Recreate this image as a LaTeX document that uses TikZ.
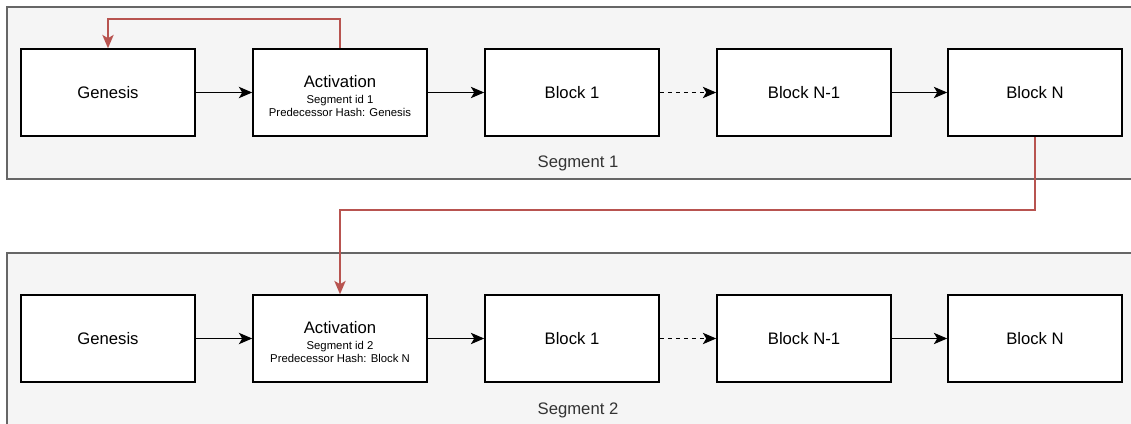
\documentclass[tikz,border=0pt]{standalone}
\usepackage{fontspec}
\setmainfont{Liberation Sans}
\usetikzlibrary{arrows.meta}

\definecolor{segfill}{HTML}{F5F5F5}
\definecolor{segline}{HTML}{666666}
\definecolor{linkred}{HTML}{B85450}
\definecolor{labelgray}{HTML}{333333}

\tikzset{
  segment/.style={draw=segline, fill=segfill, line width=1pt},
  blockbox/.style={draw=black, fill=white, line width=1.2pt, minimum width=130.5pt, minimum height=65.25pt, inner sep=1pt, align=center, font=\fontsize{12.5}{14}\selectfont},
  chain/.style={-{Stealth[length=10pt,width=8.5pt,inset=2.5pt]}, line width=1.1pt},
  link/.style={-{Stealth[length=10pt,width=8.5pt,inset=2.5pt]}, draw=linkred, line width=1.1pt}
}

\newcommand{\actlabel}[2]{\rule{0pt}{14pt}{\fontsize{12.5}{13}\selectfont Activation}\\[-2pt]{\fontsize{8.5}{9}\selectfont Segment id #1}\\[-4.25pt]{\fontsize{8.5}{9}\selectfont Predecessor Hash: #2}}

\begin{document}
\begin{tikzpicture}[x=0.75pt, y=-0.75pt]
	\useasboundingbox (0,0) rectangle (1131,424);
	\clip (0,0) rectangle (1131,424);
	% segment containers
	\draw[segment] (7,7) rectangle (1145,179);
	\draw[segment] (7,253) rectangle (1145,440);
	\node[font=\fontsize{12.5}{14}\selectfont, text=labelgray] (seg1) at (578,163) {Segment 1};
	\node[font=\fontsize{12.5}{14}\selectfont, text=labelgray] (seg2) at (578,410) {Segment 2};
	% segment 1
	\node[blockbox] (gen1) at (108,92.5) {Genesis};
	\node[blockbox] (act1) at (340,92.5) {\actlabel{1}{Genesis}};
	\node[blockbox] (one1) at (572,92.5) {Block 1};
	\node[blockbox] (prev1) at (804,92.5) {Block N-1};
	\node[blockbox] (last1) at (1035,92.5) {Block N};
	% segment 2
	\node[blockbox] (gen2) at (108,338.5) {Genesis};
	\node[blockbox] (act2) at (340,338.5) {\actlabel{2}{Block N}};
	\node[blockbox] (one2) at (572,338.5) {Block 1};
	\node[blockbox] (prev2) at (804,338.5) {Block N-1};
	\node[blockbox] (last2) at (1035,338.5) {Block N};
	% chains
	\foreach \s in {1,2} {
	  \draw[chain] (gen\s) -- (act\s);
	  \draw[chain] (act\s) -- (one\s);
	  \draw[chain, dashed] (one\s) -- (prev\s);
	  \draw[chain] (prev\s) -- (last\s);
	}
	% links between segments
	\draw[link] (act1.north) -- ++(0,-29) -| (gen1.north);
	\draw[link] (last1.south) -- ++(0,73) -| (act2.north);
\end{tikzpicture}
\end{document}
